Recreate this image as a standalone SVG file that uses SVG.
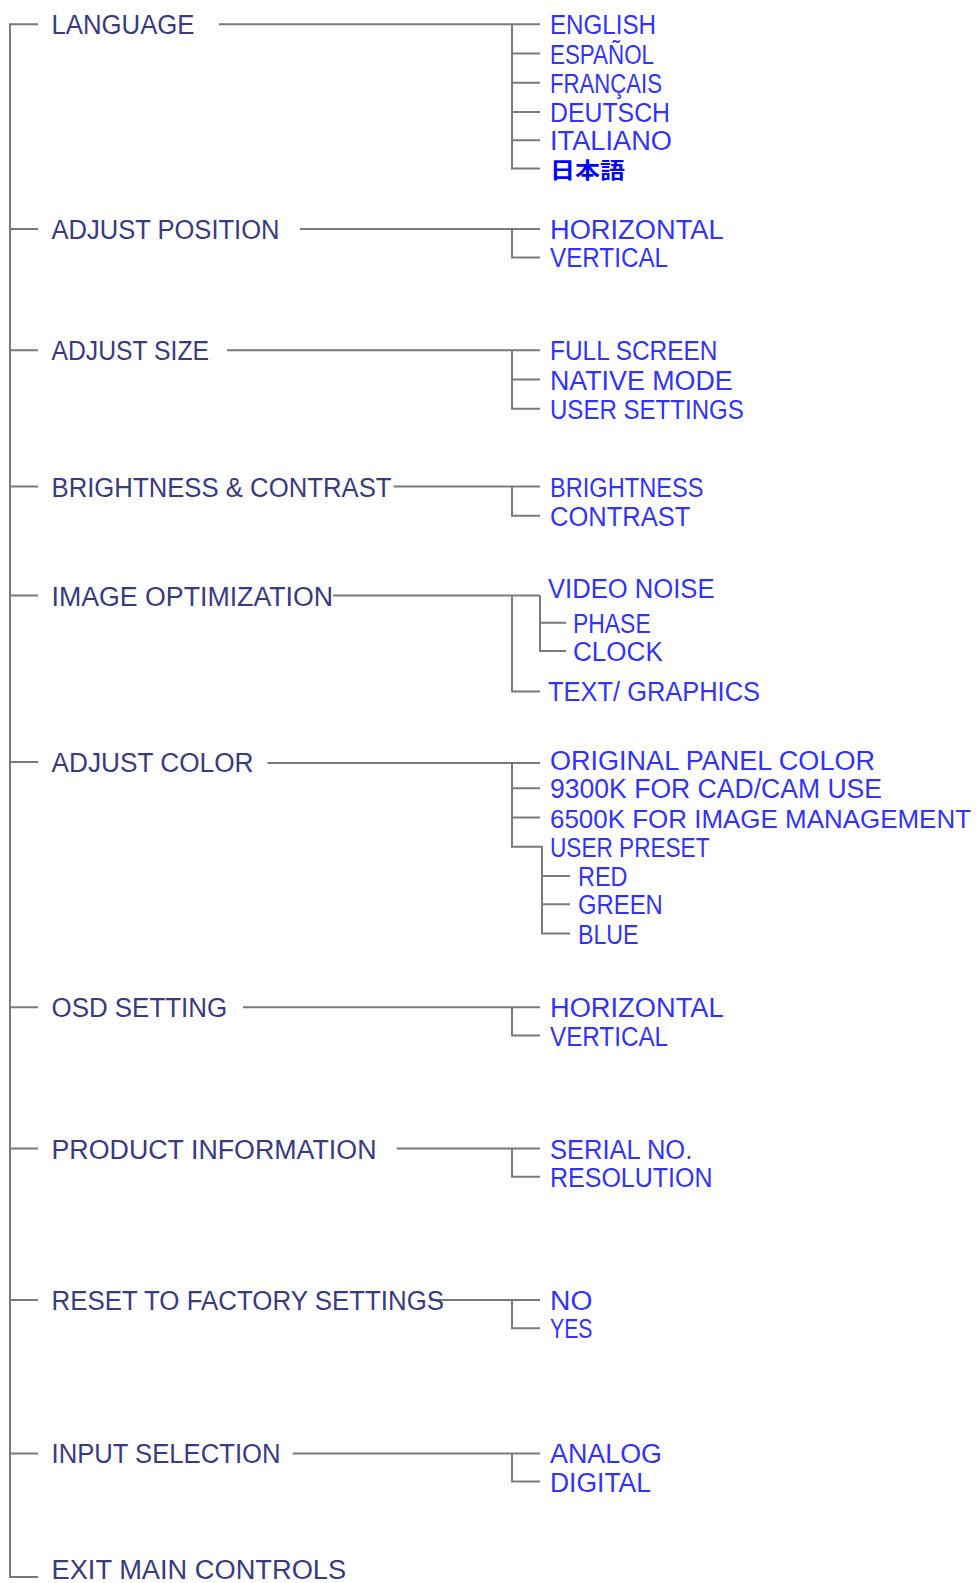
<svg xmlns="http://www.w3.org/2000/svg" width="980" height="1583" viewBox="0 0 980 1583">
<style>
.ln{fill:none;stroke:#7a7a7a;stroke-width:2}
.m{font-family:"Liberation Sans",Arial,sans-serif;font-size:27px;fill:#3a3a7e}
.c{font-family:"Liberation Sans",Arial,sans-serif;font-size:27px;fill:#3333f6}
.j{font-family:"Noto Sans CJK JP",sans-serif;font-size:22px;font-weight:bold;fill:#0000ff}
</style>
<rect width="980" height="1583" fill="#ffffff"/>
<g id="connectors" class="ln">
<path d="M38 24.2H10V1577H38"/>
<path d="M10 229H38M10 350.2H38M10 486.5H38M10 595.5H38M10 762H38M10 1007.3H38M10 1148.6H38M10 1300H38M10 1453.4H38"/>
<path d="M219 24.2H540M512 24.2V168.6H540M512 53.5H540M512 82.8H540M512 112H540M512 140.3H540"/>
<path d="M300 229H540M512 229V257.4H540"/>
<path d="M227 350.2H540M512 350.2V408.8H540M512 379.5H540"/>
<path d="M393.6 486.5H540M512 486.5V515.8H540"/>
<path d="M333 595.5H540M512 595.5V691.4H540M540 595.5V651H566M540 622.7H566"/>
<path d="M267.5 763H540M512 763V846.8H542V933.6H570M512 788.3H540M512 817.5H540M542 876H570M542 904.3H570"/>
<path d="M243 1007.3H540M512 1007.3V1035.5H540"/>
<path d="M396.7 1148.6H540M512 1148.6V1176.8H540"/>
<path d="M430 1300H540M512 1300V1328.2H540"/>
<path d="M292.7 1453.4H540M512 1453.4V1481.6H540"/>
</g>
<g id="language">
<text class="m" x="51.5" y="34.2" textLength="143" lengthAdjust="spacingAndGlyphs">LANGUAGE</text>
<text class="c" x="550" y="34.2" textLength="106" lengthAdjust="spacingAndGlyphs">ENGLISH</text>
<text class="c" x="550" y="63.5" textLength="104" lengthAdjust="spacingAndGlyphs">ESPAÑOL</text>
<text class="c" x="550" y="92.8" textLength="112" lengthAdjust="spacingAndGlyphs">FRANÇAIS</text>
<text class="c" x="550" y="122" textLength="120" lengthAdjust="spacingAndGlyphs">DEUTSCH</text>
<text class="c" x="550" y="150.3" textLength="122" lengthAdjust="spacingAndGlyphs">ITALIANO</text>
<text class="j" x="550" y="178" textLength="75" lengthAdjust="spacingAndGlyphs">日本語</text>
</g>
<g id="adjust-position">
<text class="m" x="51.5" y="239" textLength="228" lengthAdjust="spacingAndGlyphs">ADJUST  POSITION</text>
<text class="c" x="550" y="239" textLength="173.6" lengthAdjust="spacingAndGlyphs">HORIZONTAL</text>
<text class="c" x="550" y="267.4" textLength="118" lengthAdjust="spacingAndGlyphs">VERTICAL</text>
</g>
<g id="adjust-size">
<text class="m" x="51.5" y="360.2" textLength="157.5" lengthAdjust="spacingAndGlyphs">ADJUST  SIZE</text>
<text class="c" x="550" y="360.2" textLength="167.5" lengthAdjust="spacingAndGlyphs">FULL  SCREEN</text>
<text class="c" x="550" y="389.5" textLength="182.7" lengthAdjust="spacingAndGlyphs">NATIVE  MODE</text>
<text class="c" x="550" y="418.8" textLength="193.8" lengthAdjust="spacingAndGlyphs">USER  SETTINGS</text>
</g>
<g id="brightness-contrast">
<text class="m" x="51.5" y="496.5" textLength="340" lengthAdjust="spacingAndGlyphs">BRIGHTNESS  &amp;  CONTRAST</text>
<text class="c" x="550" y="496.5" textLength="153.4" lengthAdjust="spacingAndGlyphs">BRIGHTNESS</text>
<text class="c" x="550" y="525.8" textLength="140.3" lengthAdjust="spacingAndGlyphs">CONTRAST</text>
</g>
<g id="image-optimization">
<text class="m" x="51.5" y="605.5" textLength="281.6" lengthAdjust="spacingAndGlyphs">IMAGE  OPTIMIZATION</text>
<text class="c" x="548" y="598.4" textLength="166.5" lengthAdjust="spacingAndGlyphs">VIDEO  NOISE</text>
<text class="c" x="573" y="632.7" textLength="77.7" lengthAdjust="spacingAndGlyphs">PHASE</text>
<text class="c" x="573" y="661" textLength="89.8" lengthAdjust="spacingAndGlyphs">CLOCK</text>
<text class="c" x="548" y="701.4" textLength="212" lengthAdjust="spacingAndGlyphs">TEXT/  GRAPHICS</text>
</g>
<g id="adjust-color">
<text class="m" x="51.5" y="772" textLength="202" lengthAdjust="spacingAndGlyphs">ADJUST  COLOR</text>
<text class="c" x="550" y="770" textLength="325" lengthAdjust="spacingAndGlyphs">ORIGINAL  PANEL  COLOR</text>
<text class="c" x="550" y="798.3" textLength="332" lengthAdjust="spacingAndGlyphs">9300K  FOR  CAD/CAM  USE</text>
<text class="c" x="550" y="827.5" style="font-size:26px" textLength="421" lengthAdjust="spacingAndGlyphs">6500K FOR IMAGE MANAGEMENT</text>
<text class="c" x="550" y="856.8" textLength="159.5" lengthAdjust="spacingAndGlyphs">USER  PRESET</text>
<text class="c" x="578" y="886" textLength="49.5" lengthAdjust="spacingAndGlyphs">RED</text>
<text class="c" x="578" y="914.3" textLength="84.8" lengthAdjust="spacingAndGlyphs">GREEN</text>
<text class="c" x="578" y="943.6" textLength="60.6" lengthAdjust="spacingAndGlyphs">BLUE</text>
</g>
<g id="osd-setting">
<text class="m" x="51.5" y="1017.3" textLength="175.6" lengthAdjust="spacingAndGlyphs">OSD  SETTING</text>
<text class="c" x="550" y="1017.3" textLength="173.6" lengthAdjust="spacingAndGlyphs">HORIZONTAL</text>
<text class="c" x="550" y="1045.5" textLength="118" lengthAdjust="spacingAndGlyphs">VERTICAL</text>
</g>
<g id="product-information">
<text class="m" x="51.5" y="1158.6" textLength="325" lengthAdjust="spacingAndGlyphs">PRODUCT  INFORMATION</text>
<text class="c" x="550" y="1158.6" textLength="142.3" lengthAdjust="spacingAndGlyphs">SERIAL  NO.</text>
<text class="c" x="550" y="1186.8" textLength="162.5" lengthAdjust="spacingAndGlyphs">RESOLUTION</text>
</g>
<g id="reset-factory">
<text class="m" x="51.5" y="1310" textLength="392.6" lengthAdjust="spacingAndGlyphs">RESET  TO  FACTORY  SETTINGS</text>
<text class="c" x="550" y="1310" textLength="42.4" lengthAdjust="spacingAndGlyphs">NO</text>
<text class="c" x="550" y="1338.2" textLength="42.4" lengthAdjust="spacingAndGlyphs">YES</text>
</g>
<g id="input-selection">
<text class="m" x="51.5" y="1463.4" textLength="229" lengthAdjust="spacingAndGlyphs">INPUT  SELECTION</text>
<text class="c" x="550" y="1463.4" textLength="112" lengthAdjust="spacingAndGlyphs">ANALOG</text>
<text class="c" x="550" y="1491.6" textLength="101" lengthAdjust="spacingAndGlyphs">DIGITAL</text>
</g>
<g id="exit-main-controls">
<text class="m" x="51.5" y="1579" textLength="294.7" lengthAdjust="spacingAndGlyphs">EXIT  MAIN  CONTROLS</text>
</g>
</svg>
